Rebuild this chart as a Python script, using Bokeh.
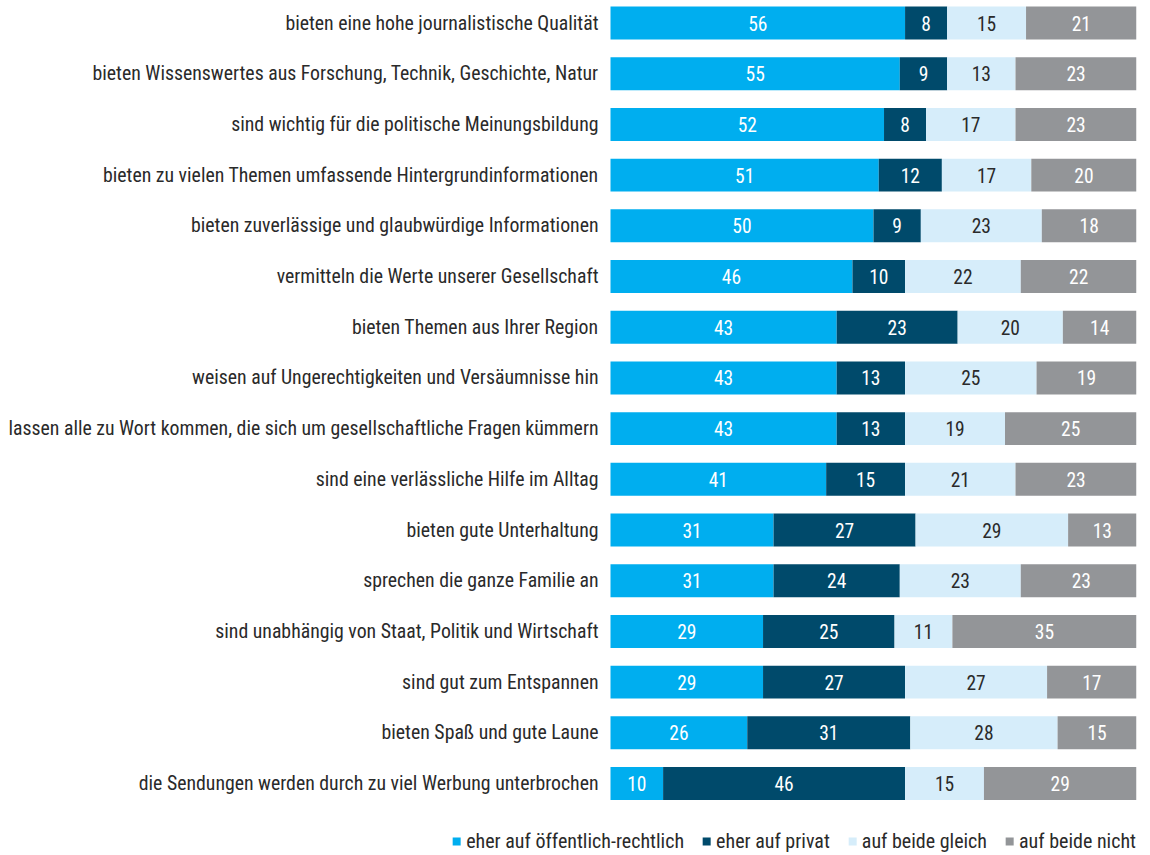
import numpy as np
from bokeh.plotting import figure
from bokeh.models import ColumnDataSource, Range1d, Legend, LegendItem
from bokeh.core.properties import value
from bokeh.embed import file_html
from bokeh.resources import INLINE

categories = [
    "bieten eine hohe journalistische Qualität",
    "bieten Wissenswertes aus Forschung, Technik, Geschichte, Natur",
    "sind wichtig für die politische Meinungsbildung",
    "bieten zu vielen Themen umfassende Hintergrundinformationen",
    "bieten zuverlässige und glaubwürdige Informationen",
    "vermitteln die Werte unserer Gesellschaft",
    "bieten Themen aus Ihrer Region",
    "weisen auf Ungerechtigkeiten und Versäumnisse hin",
    "lassen alle zu Wort kommen, die sich um gesellschaftliche Fragen kümmern",
    "sind eine verlässliche Hilfe im Alltag",
    "bieten gute Unterhaltung",
    "sprechen die ganze Familie an",
    "sind unabhängig von Staat, Politik und Wirtschaft",
    "sind gut zum Entspannen",
    "bieten Spaß und gute Laune",
    "die Sendungen werden durch zu viel Werbung unterbrochen",
]
oeffentlich = [56, 55, 52, 51, 50, 46, 43, 43, 43, 41, 31, 31, 29, 29, 26, 10]
privat      = [8, 9, 8, 12, 9, 10, 23, 13, 13, 15, 27, 24, 25, 27, 31, 46]
beide       = [15, 13, 17, 17, 23, 22, 20, 25, 19, 21, 29, 23, 11, 27, 28, 15]
keine       = [21, 23, 23, 20, 18, 22, 14, 19, 25, 23, 13, 23, 35, 17, 15, 29]
series_names = ["eher auf öffentlich-rechtlich", "eher auf privat", "auf beide gleich", "auf beide nicht"]

colors = ["#00AEEF", "#004A6B", "#D6EDFA", "#939598"]
text_colors = ["white", "white", "#2a2a2a", "white"]
FONT = "'Liberation Sans Narrow', 'Roboto Condensed', 'Arial Narrow', Roboto, sans-serif"

n = len(categories)
ypos = np.arange(n)[::-1].astype(float)  # first category at top
series = [oeffentlich, privat, beide, keine]

# frame spans the whole figure; the label area lies at negative x
p = figure(width=1140, height=853, output_backend="svg", toolbar_location=None,
           x_range=Range1d(100 - 1136 / 5.26, 100), y_range=Range1d(-1.38, n - 1 + 0.444),
           x_axis_location=None, y_axis_location=None,
           min_border_left=0, min_border_right=4, min_border_top=0, min_border_bottom=0)

renderers = []
left = np.zeros(n)
for vals, col, tcol in zip(series, colors, text_colors):
    vals = np.array(vals, dtype=float)
    right = left + vals
    src = ColumnDataSource(dict(y=ypos, left=left, right=right,
                                mid=(left + right) / 2, lab=[str(int(v)) for v in vals]))
    r = p.hbar(y="y", left="left", right="right", height=0.65, source=src,
               fill_color=col, line_color=None)
    renderers.append(r)
    p.text(x="mid", y="y", text="lab", source=src, text_align="center",
           text_baseline="middle", text_color=tcol, text_font=value(FONT),
           text_font_size="19.5px")
    left = right

cat_src = ColumnDataSource(dict(x=np.zeros(n), y=ypos, text=categories))
p.text(x="x", y="y", text="text", source=cat_src, x_offset=-12, text_align="right",
       text_baseline="middle", text_color="#2a2a2a", text_font=value(FONT),
       text_font_size="19.8px")

p.xgrid.visible = False
p.ygrid.visible = False
p.outline_line_color = None

legend = Legend(items=[LegendItem(label=nm, renderers=[r]) for nm, r in zip(series_names, renderers)],
                orientation="horizontal", location="bottom_right",
                label_text_font=FONT, label_text_font_size="20px", label_text_color="#2a2a2a",
                glyph_width=10, glyph_height=10, spacing=17, label_standoff=5,
                padding=0, margin=0, background_fill_alpha=0, border_line_color=None)
p.add_layout(legend)

open("out.html", "w").write(file_html(p, INLINE))
